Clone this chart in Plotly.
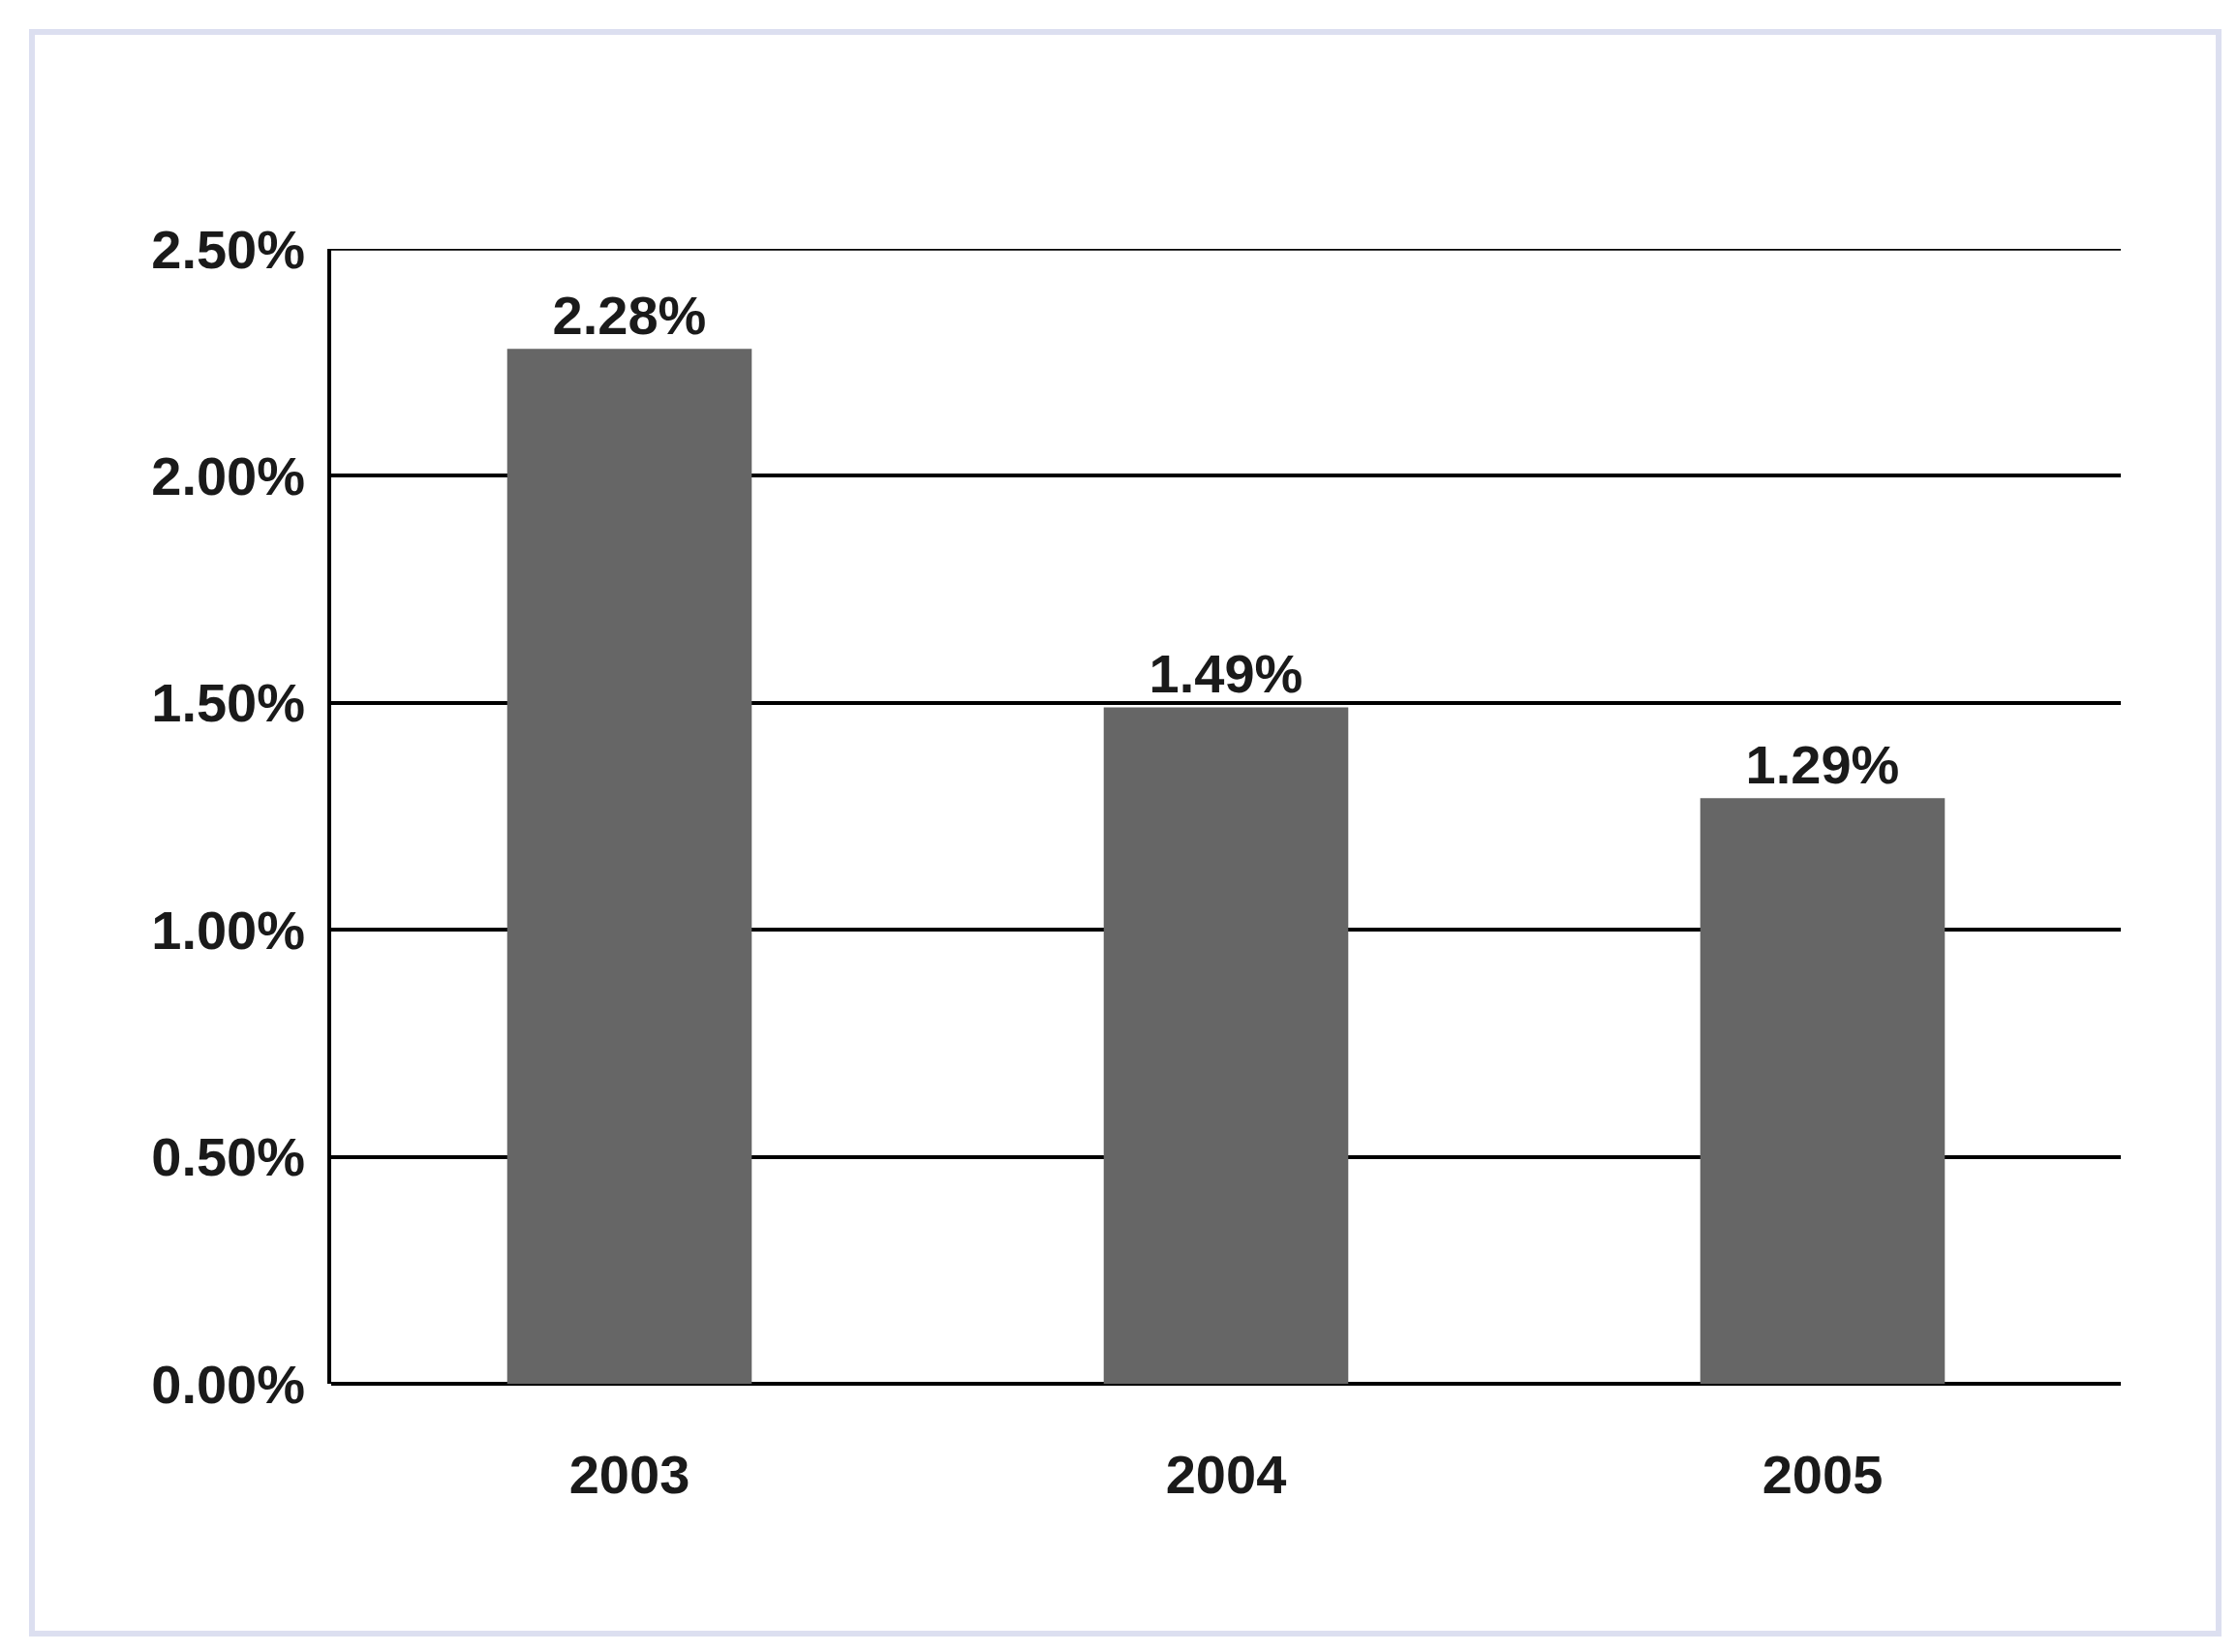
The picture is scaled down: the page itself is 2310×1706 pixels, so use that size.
import plotly.graph_objects as go

years = ["2003", "2004", "2005"]
values = [2.28, 1.49, 1.29]
labels = ["2.28%", "1.49%", "1.29%"]
yticks = [0, 0.5, 1.0, 1.5, 2.0, 2.5]
yticklabels = ["0.00%", "0.50%", "1.00%", "1.50%", "2.00%", "2.50%"]

F = "Liberation Sans, Arial"
font = dict(family=F, size=56, color="#1a1a1a")

fig = go.Figure(go.Bar(
    x=years, y=values, text=labels, textposition="outside",
    textfont=font, marker=dict(color="#666666", line=dict(width=0)),
    cliponaxis=False,
))
l, r, t, b = 334, 128, 249, 285
pw, ph = 2310 - l - r, 1706 - t - b
fig.update_layout(
    width=2310, height=1706, margin=dict(l=l, r=r, t=t, b=b),
    paper_bgcolor="white", plot_bgcolor="white", bargap=0.59,
    font=font, showlegend=False,
    xaxis=dict(showgrid=False, ticks="outside", ticklen=45, tickcolor="rgba(0,0,0,0)",
               tickfont=font),
    yaxis=dict(range=[0, 2.5], tickvals=yticks, ticktext=yticklabels,
               showgrid=True, gridcolor="black", gridwidth=3.5,
               showline=True, linecolor="black", linewidth=3.5,
               ticks="outside", ticklen=12, tickcolor="rgba(0,0,0,0)",
               zeroline=True, zerolinecolor="black", zerolinewidth=3.5,
               tickfont=font),
    shapes=[
        dict(type="rect", xref="paper", yref="paper",
             x0=(25 - l) / pw, x1=(2283 - l) / pw,
             y0=(1706 - b - 1679) / ph, y1=(1706 - b - 25) / ph,
             line=dict(color="#dcdff0", width=6)),
        dict(type="line", xref="paper", yref="y", x0=0, x1=1, y0=2.5, y1=2.5,
             line=dict(color="black", width=3.5)),
    ],
)
fig.update_traces(texttemplate="<b>%{text}</b>")
fig.update_xaxes(tickvals=years, ticktext=["<b>%s</b>" % y for y in years])
fig.update_yaxes(ticktext=["<b>%s</b>" % s for s in yticklabels])
fig.write_html("out.html")
